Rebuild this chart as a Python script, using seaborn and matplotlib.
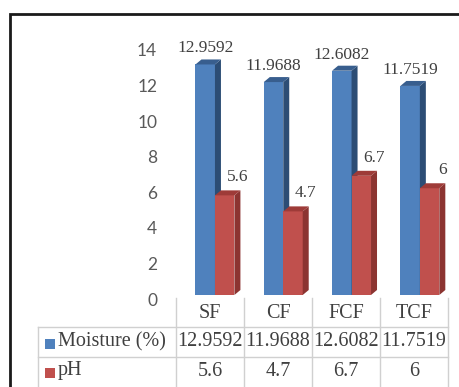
import matplotlib
matplotlib.use("Agg")
import matplotlib.pyplot as plt
from matplotlib.patches import Polygon
from matplotlib.transforms import ScaledTranslation
import seaborn as sns
import pandas as pd

# Data
sites = ["SF", "CF", "FCF", "TCF"]
moisture = [12.9592, 11.9688, 12.6082, 11.7519]
ph = [5.6, 4.7, 6.7, 6]
series_names = ["Moisture (%)", "pH"]
moisture_labels = ["12.9592", "11.9688", "12.6082", "11.7519"]
ph_labels = ["5.6", "4.7", "6.7", "6"]
y_ticks = [0, 2, 4, 6, 8, 10, 12, 14]

front = ["#4F81BD", "#C0504D"]
side = ["#2C4D75", "#8C3431"]
top = ["#385E8E", "#9E3B38"]
text_col = "#404040"
grid_col = "#D0D0D0"
serif = "Liberation Serif"

W, H = 459, 387
fig = plt.figure(figsize=(W / 100, H / 100), dpi=100)
fig.patch.set_facecolor("white")

# overlay in pixel coordinates for frame and data table
ov = fig.add_axes([0, 0, 1, 1], zorder=0)
ov.set_xlim(0, W)
ov.set_ylim(H, 0)
ov.axis("off")

# chart area: category pitch ~68.3 px, 17.79 px per unit
x_left, x_right = 180.8, 454.0
y_base, y_top = 295.0, 295.0 - 14 * 17.79
ax = fig.add_axes([x_left / W, 1 - y_base / H, (x_right - x_left) / W,
                   (y_base - y_top) / H], zorder=2)
ax.patch.set_alpha(0)

df = pd.DataFrame({
    "Site": sites * 2,
    "Value": moisture + ph,
    "Series": [series_names[0]] * 4 + [series_names[1]] * 4,
})
sns.barplot(data=df, x="Site", y="Value", hue="Series", order=sites,
            hue_order=series_names, palette=front, saturation=1,
            width=0.57, linewidth=0, legend=False, ax=ax)

ax.set_xlim(-0.5, 3.5)
ax.set_ylim(0, 14)
ax.set_yticks(y_ticks)
ax.set_xticks([])
ax.set_xlabel("")
ax.set_ylabel("")
for s in ax.spines.values():
    s.set_visible(False)
ax.tick_params(axis="y", length=0, pad=17, labelsize=12.5, labelcolor="#595959")
for lab in ax.get_yticklabels():
    lab.set_fontfamily("Lato")
    lab.set_transform(lab.get_transform() +
                      ScaledTranslation(0, -0.04, fig.dpi_scale_trans))

# 3D depth faces
px_x = (x_right - x_left) / 4.0
px_y = 17.79
dx = 6 / px_x
dy = 5 / px_y
bars = list(ax.patches)
labels = [moisture_labels, ph_labels]
for k, p in enumerate(bars):
    hue_i = k // 4
    cat_i = k % 4
    z = 2 + hue_i
    p.set_zorder(z)
    x0, w, h = p.get_x(), p.get_width(), p.get_height()
    ax.add_patch(Polygon([(x0 + w, 0), (x0 + w + dx, dy), (x0 + w + dx, h + dy),
                          (x0 + w, h)], closed=True, facecolor=side[hue_i],
                         edgecolor="none", zorder=z))
    ax.add_patch(Polygon([(x0, h), (x0 + dx, h + dy), (x0 + w + dx, h + dy),
                          (x0 + w, h)], closed=True, facecolor=top[hue_i],
                         edgecolor="none", zorder=z))
    if hue_i == 0:
        lx, ly = x0 + w / 2, h + 8 / px_y
    else:
        lx, ly = x0 + w + 3 / px_x, h + 10 / px_y
    ax.text(lx, ly, labels[hue_i][cat_i], ha="center", va="bottom",
            fontsize=12.5, family=serif, color=text_col, zorder=5)

# outer frame
ov.plot([10, 10, W + 5], [H + 5, 14, 14], color="#1A1A1A", lw=2,
        solid_joinstyle="miter", clip_on=False)

# data table
col_edges = [176, 244, 312, 380, 448]
row_edges = [298, 327, 357, 387]
tab_left = 38
for xe in col_edges:
    ov.plot([xe, xe], [row_edges[0], H + 2], color=grid_col, lw=1, clip_on=False)
ov.plot([tab_left, tab_left], [row_edges[1], H + 2], color=grid_col, lw=1,
        clip_on=False)
for ye in row_edges[1:3]:
    ov.plot([tab_left, col_edges[-1]], [ye, ye], color=grid_col, lw=1)

fs_tab = 14.5
for i, name in enumerate(sites):
    cx = (col_edges[i] + col_edges[i + 1]) / 2
    ov.text(cx, 313, name, ha="center", va="center", fontsize=fs_tab,
            family=serif, color=text_col)
    ov.text(cx, 342, moisture_labels[i], ha="center", va="center",
            fontsize=fs_tab, family=serif, color=text_col)
    ov.text(cx, 372, ph_labels[i], ha="center", va="center",
            fontsize=fs_tab, family=serif, color=text_col)

for r, (name, col) in enumerate(zip(series_names, front)):
    cy = 343.5 + r * 29
    ov.add_patch(plt.Rectangle((45, cy - 5), 10, 10, facecolor=col,
                               edgecolor="none"))
    ov.text(58, cy - 1.5, name, ha="left", va="center", fontsize=fs_tab,
            family=serif, color=text_col)

fig.savefig("out.png", dpi=100, facecolor="white")
